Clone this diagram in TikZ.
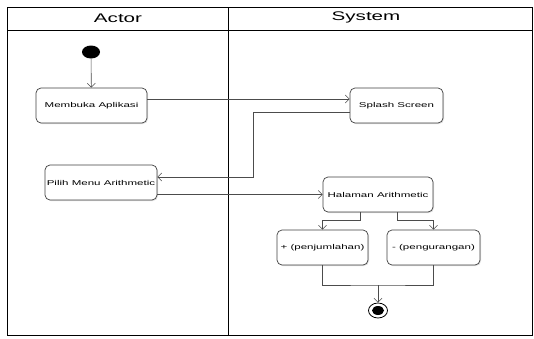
\documentclass[tikz,border=0pt]{standalone}
\usepackage{fontspec}
\newfontfamily\umlfont[FakeStretch=1.65]{Liberation Sans}
\usetikzlibrary{arrows.meta,positioning,shapes.geometric,shadows}

\begin{document}
\begin{tikzpicture}[x=1pt,y=-1pt,
	act/.style={rectangle, rounded corners=5pt, draw=black!75, line width=0.7pt, fill=white,
		drop shadow={opacity=0.25, shadow xshift=1pt, shadow yshift=-1pt},
		inner sep=1pt, font=\umlfont\fontsize{7}{8}\selectfont},
	flow/.style={draw=black!70, line width=0.6pt, -{Straight Barb[length=4pt,width=8pt]}},
	link/.style={draw=black!70, line width=0.6pt},
	lane/.style={font=\umlfont\fontsize{12.5}{14}\selectfont}]
\useasboundingbox (0,0) rectangle (534,338);

% swimlanes
\draw[line width=0.7pt] (7,7) rectangle (532,335);
\draw[line width=0.7pt] (7,30) -- (532,30);
\draw[line width=0.7pt] (228,7) -- (228,335);
\node[lane] (actor) at (118,18) {Actor};
\node[lane] (system) at (366,17) {System};

% actor lane
\node[ellipse, fill=black, minimum width=18pt, minimum height=13pt, inner sep=0pt] (start) at (91,52) {};
\node[act, minimum width=111pt, minimum height=35pt] (buka) at (91.5,105.5) {Membuka Aplikasi};
\node[act, minimum width=112pt, minimum height=35pt] (pilih) at (101,182.5) {Pilih Menu Arithmetic};

% system lane
\node[act, minimum width=93pt, minimum height=35pt] (splash) at (396.5,105.5) {Splash Screen};
\node[act, minimum width=110pt, minimum height=35pt] (halaman) at (378,194.5) {Halaman Arithmetic};
\node[act, minimum width=91pt, minimum height=35pt] (tambah) at (322.5,247.5) {+ (penjumlahan)};
\node[act, minimum width=93pt, minimum height=35pt] (kurang) at (433.5,247.5) {- (pengurangan)};
\node[ellipse, draw=black, line width=0.8pt, minimum width=19pt, minimum height=15pt, inner sep=0pt] (end) at (378,310.5) {};
\fill (end) ellipse (6pt and 4.5pt);

\coordinate (balik) at (253,112);
\coordinate (gabung) at (378,285);

\draw[flow] (start) -- (buka);
\draw[flow] ([yshift=6.5pt]buka.east) -- ([yshift=6.5pt]splash.west);
\draw[flow] ([yshift=-6.5pt]splash.west) -- (balik) |- ([yshift=5.5pt]pilih.east);
\draw[flow] (pilih.east |- halaman.west) -- (halaman.west);
\draw[flow] ([xshift=-18pt]halaman.south) -- ++(0,8) -| (tambah.north);
\draw[flow] ([xshift=19pt]halaman.south) -- ++(0,8) -| (kurang.north);
\draw[link] (tambah.south) |- (gabung) -| (kurang.south);
\draw[flow] (gabung) -- (end);

\end{tikzpicture}
\end{document}
